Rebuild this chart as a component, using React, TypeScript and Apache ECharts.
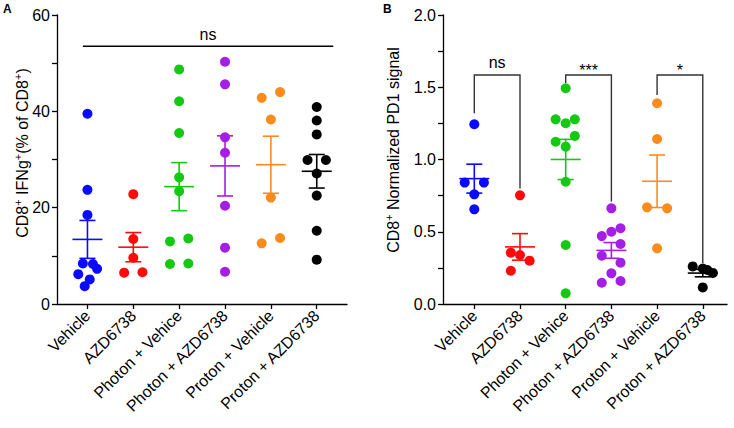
import React, { useEffect, useRef } from "react";
import * as echarts from "echarts";

// ---------- data ----------
const categories = [
  "Vehicle",
  "AZD6738",
  "Photon + Vehice",
  "Photon + AZD6738",
  "Proton + Vehicle",
  "Proton + AZD6738",
];
const groupColors = ["#0a0aff", "#ff0a0a", "#14c814", "#a51ee6", "#fa8c1e", "#000000"];

// Panel A: CD8+ IFNg+ (% of CD8+)
const ifngVehicle = [39.5, 23.7, 18.5, 8.4, 8.3, 7.3, 6.2, 5.1, 3.7];
const ifngAZD = [22.8, 13.5, 9.6, 6.5, 6.6];
const ifngPhotonVeh = [48.7, 42.1, 35.5, 26.3, 23.4, 13.0, 13.6, 8.3, 8.4];
const ifngPhotonAZD = [50.3, 45.6, 34.6, 31.4, 20.4, 11.7, 6.7];
const ifngProtonVeh = [42.8, 44.0, 38.3, 22.1, 12.6, 13.7];
const ifngProtonAZD = [40.9, 38.1, 35.2, 29.9, 29.9, 27.1, 22.5, 15.2, 9.2];
// beeswarm offsets (category units) as seen in the figure
const ifngJitter = [
  [0, 0, 0, -0.1, 0.12, 0.21, -0.2, 0.05, -0.06],
  [0, 0, 0, -0.2, 0.2],
  [0, 0, 0, 0, 0, -0.2, 0.2, -0.2, 0.2],
  [0, 0, 0, 0, 0, 0, 0],
  [-0.2, 0.2, 0, 0, -0.2, 0.2],
  [0, 0, 0, -0.2, 0.2, 0, 0, 0, 0],
];

// Panel B: CD8+ normalized PD1 signal
const pd1Vehicle = [1.244, 0.84, 0.84, 0.759, 0.655];
const pd1AZD = [0.752, 0.355, 0.339, 0.3, 0.23];
const pd1PhotonVeh = [1.493, 1.278, 1.251, 1.278, 1.123, 1.163, 1.089, 0.846, 0.408, 0.074];
const pd1PhotonAZD = [0.662, 0.47, 0.5, 0.524, 0.415, 0.334, 0.286, 0.212, 0.147, 0.159];
const pd1ProtonVeh = [1.389, 1.142, 0.669, 0.662, 0.385];
const pd1ProtonAZD = [0.26, 0.245, 0.235, 0.215, 0.115];
const pd1Jitter = [
  [0, -0.21, 0.21, 0, 0],
  [0, -0.2, 0, 0.21, -0.2],
  [0, -0.22, 0, 0.2, -0.22, 0.2, 0, 0, 0, 0],
  [0, -0.21, 0, 0.2, 0.2, -0.21, 0.2, 0, -0.21, 0.2],
  [0, 0, -0.22, 0.22, 0],
  [-0.22, 0, 0.1, 0.22, 0],
];

// significance annotations: [xFrom, xTo, yTop, yLeftEnd, yRightEnd]
const sigA = [[-0.1, 5.36, 53.5, 53.5, 53.5]];
const sigALabels = ["ns"];
const sigB = [
  [0, 1, 1.585, 1.32, 0.8],
  [2, 3, 1.585, 1.53, 0.71],
  [4, 5, 1.585, 1.446, 0.284],
];
const sigBLabels = ["ns", "***", "*"];

const yTicksA = { min: 0, max: 60, interval: 20 };
const yTicksB = { min: 0, max: 2, interval: 0.5 };

// ---------- helpers ----------
const FONT = "'Liberation Sans', Arial, Helvetica, sans-serif";
const mean = (a: number[]) => a.reduce((s, v) => s + v, 0) / a.length;
const sem = (a: number[]) => {
  const m = mean(a);
  const v = a.reduce((s, x) => s + (x - m) ** 2, 0) / (a.length - 1);
  return Math.sqrt(v / a.length);
};

function scatterData(groups: number[][], jitter: number[][]) {
  const out: any[] = [];
  groups.forEach((g, i) =>
    g.forEach((v, j) =>
      out.push({ value: [i + (jitter[i][j] || 0), v], itemStyle: { color: groupColors[i] } })
    )
  );
  return out;
}
function statData(groups: number[][]) {
  return groups.map((g, i) => [i, mean(g), sem(g)]);
}

const errorRender = (params: any, api: any) => {
  const i = api.value(0);
  const m = api.value(1);
  const s = api.value(2);
  const c = api.coord([i, m]);
  const t = api.coord([i, m + s]);
  const b = api.coord([i, m - s]);
  const style = { stroke: groupColors[i], lineWidth: 1.6 };
  const hm = 15;
  const hc = 8;
  return {
    type: "group",
    children: [
      { type: "line", shape: { x1: c[0] - hm, y1: c[1], x2: c[0] + hm, y2: c[1] }, style },
      { type: "line", shape: { x1: t[0], y1: t[1], x2: b[0], y2: b[1] }, style },
      { type: "line", shape: { x1: t[0] - hc, y1: t[1], x2: t[0] + hc, y2: t[1] }, style },
      { type: "line", shape: { x1: b[0] - hc, y1: b[1], x2: b[0] + hc, y2: b[1] }, style },
    ],
  };
};

const makeSigRender = (labels: string[], color: string) => (params: any, api: any) => {
  const x1 = api.value(0);
  const x2 = api.value(1);
  const top = api.value(2);
  const yl = api.value(3);
  const yr = api.value(4);
  const a = api.coord([x1, yl]);
  const b = api.coord([x1, top]);
  const c = api.coord([x2, top]);
  const d = api.coord([x2, yr]);
  const label = labels[params.dataIndex];
  const star = label.indexOf("*") >= 0;
  return {
    type: "group",
    children: [
      {
        type: "polyline",
        shape: { points: [a, b, c, d] },
        style: { stroke: color, lineWidth: 1.4, fill: "none" },
      },
      {
        type: "text",
        x: (b[0] + c[0]) / 2,
        y: b[1] - (star ? 4 : 12),
        style: {
          text: label,
          fontSize: 16,
          fontFamily: FONT,
          fill: "#000",
          align: "center",
          verticalAlign: "middle",
        },
      },
    ],
  };
};

function xAxisCfg(gridIndex: number, min: number, max: number) {
  const vals = categories.map((_, i) => i);
  return {
    type: "value",
    gridIndex,
    min,
    max,
    splitLine: { show: false },
    axisLine: { show: true, onZero: false, lineStyle: { color: "#000", width: 1.3 } },
    axisTick: { show: true, customValues: vals, length: 5, lineStyle: { color: "#000", width: 1.3 } },
    axisLabel: {
      customValues: vals,
      formatter: (v: number) => categories[Math.round(v)] ?? "",
      rotate: 45,
      fontSize: 16,
      fontFamily: FONT,
      color: "#000",
      margin: 9,
    },
  };
}

function yAxisCfg(gridIndex: number, t: { min: number; max: number; interval: number }, digits: number) {
  return {
    type: "value",
    gridIndex,
    min: t.min,
    max: t.max,
    interval: t.interval,
    splitLine: { show: false },
    axisLine: { show: true, onZero: false, lineStyle: { color: "#000", width: 1.3 } },
    axisTick: { show: true, length: 5, lineStyle: { color: "#000", width: 1.3 } },
    minorTick: { show: true, splitNumber: 2, length: 5, lineStyle: { color: "#000", width: 1.3 } },
    axisLabel: {
      fontSize: 16,
      fontFamily: FONT,
      color: "#000",
      margin: 7,
      formatter: (v: number) => v.toFixed(digits),
    },
  };
}

const supRich = {
  n: { fontSize: 16, fontFamily: FONT, fill: "#000", lineHeight: 20 },
  s: { fontSize: 11, fontFamily: FONT, fill: "#000", lineHeight: 11, verticalAlign: "top" },
};

export default function App() {
  const ref = useRef<HTMLDivElement>(null);

  useEffect(() => {
    if (!ref.current) return;
    const chart = echarts.init(ref.current, undefined, { renderer: "svg" });
    const groupsA = [ifngVehicle, ifngAZD, ifngPhotonVeh, ifngPhotonAZD, ifngProtonVeh, ifngProtonAZD];
    const groupsB = [pd1Vehicle, pd1AZD, pd1PhotonVeh, pd1PhotonAZD, pd1ProtonVeh, pd1ProtonAZD];

    chart.setOption({
      animation: false,
      backgroundColor: "#fff",
      grid: [
        { left: 57, right: 387, top: 15, bottom: 124, outerBoundsMode: "none" },
        { left: 443, right: 7, top: 15, bottom: 124, outerBoundsMode: "none" },
      ],
      xAxis: [xAxisCfg(0, -0.664, 5.66), xAxisCfg(1, -0.685, 5.53)],
      yAxis: [yAxisCfg(0, yTicksA, 0), yAxisCfg(1, yTicksB, 1)],
      graphic: [
        {
          type: "text",
          left: 3,
          top: 3,
          style: { text: "A", fontSize: 12, fontWeight: "bold", fontFamily: FONT, fill: "#000" },
        },
        {
          type: "text",
          left: 383,
          top: 3,
          style: { text: "B", fontSize: 12, fontWeight: "bold", fontFamily: FONT, fill: "#000" },
        },
        {
          type: "text",
          x: 22,
          y: 153,
          rotation: Math.PI / 2,
          style: {
            text: "{n|CD8}{s|+}{n| IFNg}{s|+}{n|(% of CD8}{s|+}{n|)}",
            rich: supRich,
            align: "center",
            verticalAlign: "middle",
          },
        },
        {
          type: "text",
          x: 393,
          y: 150,
          rotation: Math.PI / 2,
          style: {
            text: "{n|CD8}{s|+}{n| Normalized PD1 signal}",
            rich: supRich,
            align: "center",
            verticalAlign: "middle",
          },
        },
      ],
      series: [
        {
          type: "scatter",
          xAxisIndex: 0,
          yAxisIndex: 0,
          symbolSize: 10,
          itemStyle: { opacity: 1 },
          data: scatterData(groupsA, ifngJitter),
          z: 2,
        },
        {
          type: "scatter",
          xAxisIndex: 1,
          yAxisIndex: 1,
          symbolSize: 10,
          itemStyle: { opacity: 1 },
          data: scatterData(groupsB, pd1Jitter),
          z: 2,
        },
        {
          type: "custom",
          xAxisIndex: 0,
          yAxisIndex: 0,
          renderItem: errorRender,
          data: statData(groupsA),
          z: 3,
        },
        {
          type: "custom",
          xAxisIndex: 1,
          yAxisIndex: 1,
          renderItem: errorRender,
          data: statData(groupsB),
          z: 3,
        },
        {
          type: "custom",
          xAxisIndex: 0,
          yAxisIndex: 0,
          renderItem: makeSigRender(sigALabels, "#000"),
          data: sigA,
          clip: false,
          z: 1,
        },
        {
          type: "custom",
          xAxisIndex: 1,
          yAxisIndex: 1,
          renderItem: makeSigRender(sigBLabels, "#333"),
          data: sigB,
          clip: false,
          z: 1,
        },
      ],
    });
    return () => chart.dispose();
  }, []);

  return (
    <div
      ref={ref}
      style={{ position: "fixed", left: 0, top: 0, width: 734, height: 428, background: "#fff" }}
    />
  );
}
